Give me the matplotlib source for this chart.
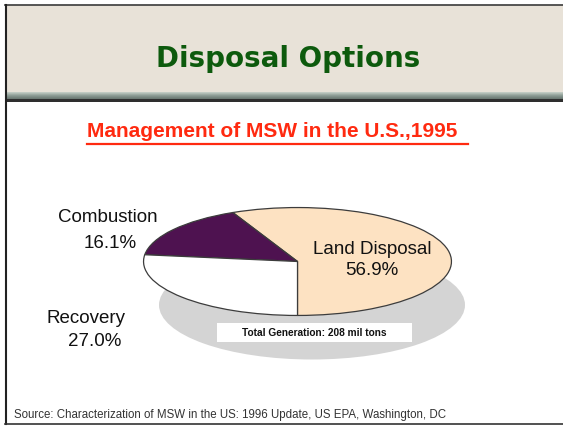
import matplotlib
matplotlib.use("Agg")
import matplotlib.pyplot as plt
import numpy as np
from matplotlib.patches import Rectangle, Ellipse
from matplotlib.colors import LinearSegmentedColormap

# ---- data ----
categories = ["Land Disposal", "Combustion", "Recovery"]
shares = [56.9, 16.1, 27.0]
slice_colors = ["#fde2c2", "#4e1250", "#ffffff"]
title = "Disposal Options"
subtitle = "Management of MSW in the U.S.,1995"
note = "Total Generation: 208 mil tons"
source = "Source: Characterization of MSW in the US: 1996 Update, US EPA, Washington, DC"

W, H = 563, 426
fig = plt.figure(figsize=(W / 100, H / 100), dpi=100)
fig.patch.set_facecolor("white")

bg = fig.add_axes([0, 0, 1, 1])
bg.axis("off")

# header
bg.add_patch(Rectangle((5, 5), W - 5, 87, facecolor="#e8e2d8", edgecolor="none"))
grad = np.linspace(0, 1, 8).reshape(-1, 1)
cm = LinearSegmentedColormap.from_list("band", ["#c2ccc4", "#8c9c94", "#6c7a74"])
bg.imshow(grad, cmap=cm, extent=(5, W, 99, 92), aspect="auto", zorder=1)
bg.add_patch(Rectangle((5, 99), W - 5, 2.5, facecolor="#2e2e2e", edgecolor="none", zorder=2))
# borders
bg.plot([5, W], [4.5, 4.5], color="#3a3a3a", lw=1.2, zorder=3)
bg.plot([5.5, 5.5], [4.5, 423.5], color="#222222", lw=1.5, zorder=3)
bg.plot([5, W], [423.5, 423.5], color="#333333", lw=1.2, zorder=3)
bg.set_xlim(0, W)
bg.set_ylim(H, 0)

bg.text(288, 67, title, ha="center", va="baseline", fontsize=20,
        fontweight="bold", color="#0d5a0d", family="DejaVu Sans")

bg.text(87, 137, subtitle, ha="left", va="baseline", fontsize=15,
        fontweight="bold", color="#ff2a10", family="Liberation Sans")
bg.plot([87, 468], [143.5, 143.5], color="#ff2a10", lw=1.6)

# shadow of pie
bg.add_patch(Ellipse((312, 305), 306, 109, facecolor="#d4d4d4", edgecolor="none", zorder=1))

# pie
pax = fig.add_axes([142 / W, (H - 316) / H, 311 / W, 109 / H])
pax.pie(shares, colors=slice_colors, startangle=-90, counterclock=True,
        wedgeprops=dict(edgecolor="#3c3c3c", linewidth=0.9))
pax.set_aspect("auto")
pax.set_xlim(-1.01, 1.01)
pax.set_ylim(-1.01, 1.01)
pax.axis("off")

# overlay for labels
top = fig.add_axes([0, 0, 1, 1])
top.set_xlim(0, W)
top.set_ylim(H, 0)
top.axis("off")
top.patch.set_alpha(0)

top.add_patch(Rectangle((217, 323), 195, 19, facecolor="white", edgecolor="none", zorder=4))
top.text(314, 336.5, note, ha="center", va="baseline", fontsize=7.3,
         fontweight="bold", color="#111111", family="Liberation Sans", zorder=5)

lab_font = dict(fontsize=13.5, color="#111111", family="Liberation Sans", va="baseline", ha="center")
label_pos = {"Land Disposal": ((372, 253.5), (372, 275)),
             "Combustion": ((108, 222), (110, 248)),
             "Recovery": ((86, 323), (95, 346))}
for cat, val in zip(categories, shares):
    (x1, y1), (x2, y2) = label_pos[cat]
    top.text(x1, y1, cat, **lab_font, zorder=6)
    top.text(x2, y2, f"{val:.1f}%", **lab_font, zorder=6)

top.text(14, 418, source, ha="left", va="baseline", fontsize=8.3,
         color="#333333", family=["Liberation Sans Narrow", "Liberation Sans"])

fig.savefig("out.png", dpi=100)
